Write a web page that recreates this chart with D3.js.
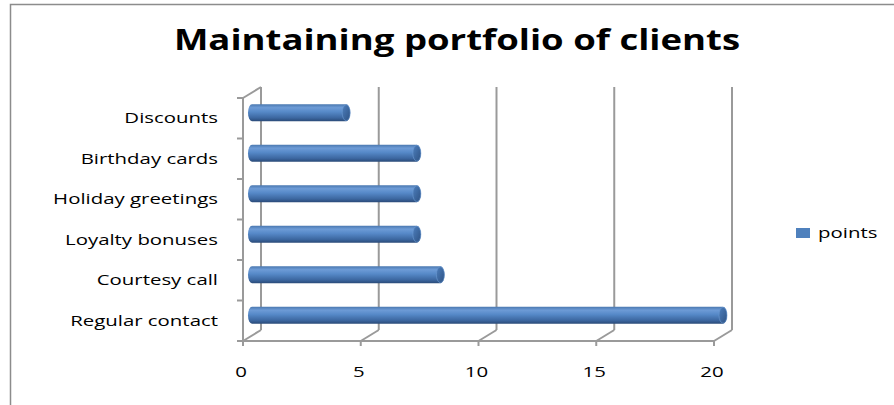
<!DOCTYPE html>
<html>
<head>
<meta charset="utf-8">
<script src="https://cdn.jsdelivr.net/npm/d3@7"></script>
<style>
  html, body { margin: 0; padding: 0; background: #fff; }
  svg { display: block; }
  text { font-family: "Open Sans", "DejaVu Sans", sans-serif; fill: #000; }
</style>
</head>
<body>
<svg id="chart" width="894" height="405"></svg>
<script>
// Categories listed bottom-up, as the value axis stacks them
const categories = ["Regular contact", "Courtesy call", "Loyalty bonuses", "Holiday greetings", "Birthday cards", "Discounts"];
const points = [20, 8, 7, 7, 7, 4];
const valueTicks = [0, 5, 10, 15, 20];
const seriesName = "points";
const chartTitle = "Maintaining portfolio of clients";

const data = categories.map((c, i) => ({ category: c, value: points[i] }));

const svg = d3.select("#chart");
const W = 894, H = 405;

// Plot geometry (front plane of the 3-D box) and depth offset
const front = { left: 243, right: 714, top: 98, bottom: 341 };
const depth = { dx: 18, dy: -11 };
const gridColor = "#9a9a9a";
// Wide lettering: glyphs are stretched horizontally
const textStretch = 1.36, titleStretch = 1.26;

const x = d3.scaleLinear().domain([0, 20]).range([front.left, front.right]);
const y = d3.scaleBand().domain(categories.slice().reverse()).range([front.top, front.bottom]);

// Outer chart border
svg.append("rect")
  .attr("x", 10.5).attr("y", 4.5)
  .attr("width", W + 20).attr("height", H + 20)
  .attr("fill", "none").attr("stroke", "#8c8c8c").attr("stroke-width", 1.5);

// Title
svg.append("text")
  .attr("transform", `translate(457,50) scale(${titleStretch},1)`)
  .attr("text-anchor", "middle")
  .style("font-weight", "bold").style("font-size", "29px")
  .text(chartTitle);

const walls = svg.append("g").attr("fill", "none").attr("stroke", gridColor).attr("stroke-width", 2);

// Back-wall gridlines and floor diagonals for each value tick
valueTicks.forEach(v => {
  const fx = x(v);
  walls.append("line")
    .attr("x1", fx + depth.dx).attr("y1", front.bottom + depth.dy)
    .attr("x2", fx + depth.dx).attr("y2", front.top + depth.dy);
  walls.append("line")
    .attr("x1", fx).attr("y1", front.bottom)
    .attr("x2", fx + depth.dx).attr("y2", front.bottom + depth.dy);
  walls.append("line")
    .attr("x1", fx).attr("y1", front.bottom)
    .attr("x2", fx).attr("y2", front.bottom + 5);
});

// Floor front edge
walls.append("line")
  .attr("x1", front.left).attr("y1", front.bottom)
  .attr("x2", front.right).attr("y2", front.bottom);

// Side wall front edge and its top diagonal
walls.append("line")
  .attr("x1", front.left).attr("y1", front.bottom)
  .attr("x2", front.left).attr("y2", front.top);
walls.append("line")
  .attr("x1", front.left).attr("y1", front.top)
  .attr("x2", front.left + depth.dx).attr("y2", front.top + depth.dy);

// Category tick marks at band boundaries
const boundaries = y.domain().map(c => y(c)).concat([front.bottom]);
boundaries.forEach(b => {
  walls.append("line")
    .attr("x1", front.left - 6).attr("y1", b)
    .attr("x2", front.left).attr("y2", b);
});

// Category labels
svg.append("g").selectAll("text")
  .data(categories)
  .join("text")
  .attr("transform", d => `translate(218,${y(d) + y.bandwidth() / 2 + 5}) scale(${textStretch},1)`)
  .attr("text-anchor", "end")
  .style("font-size", "15px")
  .text(d => d);

// Value tick labels
svg.append("g").selectAll("text")
  .data(valueTicks)
  .join("text")
  .attr("transform", d => `translate(${x(d) - 2},377) scale(${textStretch},1)`)
  .attr("text-anchor", "middle")
  .style("font-size", "15px")
  .text(d => d);

// Cylinder shading
const defs = svg.append("defs");
const grad = defs.append("linearGradient").attr("id", "cyl").attr("x1", 0).attr("y1", 0).attr("x2", 0).attr("y2", 1);
grad.append("stop").attr("offset", "0%").attr("stop-color", "#4a78b0");
grad.append("stop").attr("offset", "20%").attr("stop-color", "#6d9bd6");
grad.append("stop").attr("offset", "45%").attr("stop-color", "#5689c8");
grad.append("stop").attr("offset", "80%").attr("stop-color", "#3c67a0");
grad.append("stop").attr("offset", "100%").attr("stop-color", "#2a4a78");

const capGrad = defs.append("linearGradient").attr("id", "cap").attr("x1", 0).attr("y1", 0).attr("x2", 1).attr("y2", 1);
capGrad.append("stop").attr("offset", "0%").attr("stop-color", "#4d7fbd");
capGrad.append("stop").attr("offset", "100%").attr("stop-color", "#2e5283");

// Bars sit halfway into the depth of the box
const barH = 17, rx = 4;
const bars = svg.append("g").selectAll("g").data(data).join("g")
  .attr("transform", `translate(${depth.dx / 2},${depth.dy / 2})`);

bars.append("path")
  .attr("fill", "url(#cyl)")
  .attr("d", d => {
    const x0 = x(0), x1 = x(d.value);
    const cy = y(d.category) + y.bandwidth() / 2;
    const t = cy - barH / 2, b = cy + barH / 2;
    return `M${x0},${t} L${x1},${t} A${rx},${barH / 2} 0 0 1 ${x1},${b} L${x0},${b} A${rx},${barH / 2} 0 0 1 ${x0},${t} Z`;
  });

bars.append("ellipse")
  .attr("cx", d => x(d.value))
  .attr("cy", d => y(d.category) + y.bandwidth() / 2)
  .attr("rx", rx).attr("ry", barH / 2 - 0.5)
  .attr("fill", "url(#cap)")
  .attr("stroke", "#6c98d0").attr("stroke-width", 0.6);

// Legend
const legend = svg.append("g");
legend.append("rect")
  .attr("x", 796).attr("y", 228).attr("width", 14).attr("height", 10)
  .attr("fill", "#4f81bd");
legend.append("text")
  .attr("transform", `translate(818,238) scale(${textStretch},1)`)
  .style("font-size", "15px")
  .text(seriesName);
</script>
</body>
</html>
